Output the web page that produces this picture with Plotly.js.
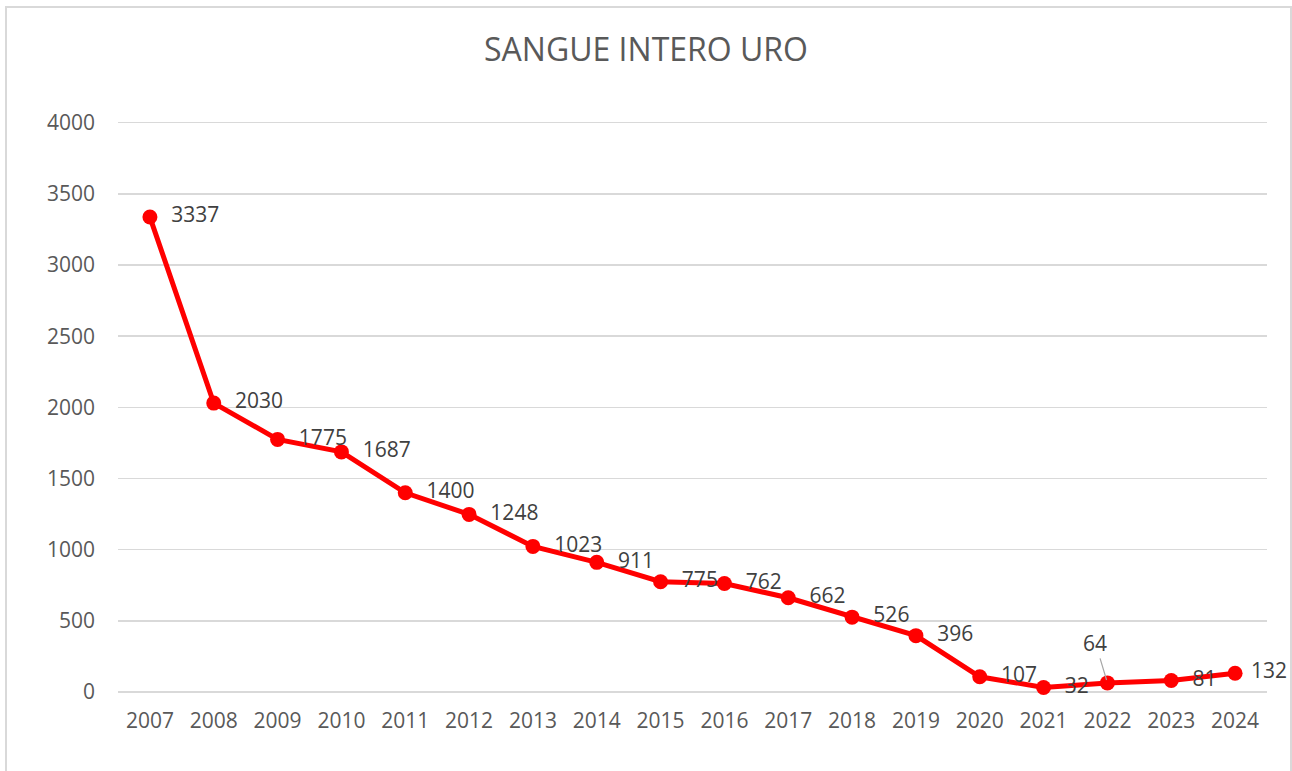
<!DOCTYPE html>
<html>
<head>
<meta charset="utf-8">
<script src="https://cdn.plot.ly/plotly-3.0.1.min.js"></script>
<style>
  body { margin: 0; background: #fff; }
  #chart { width: 1292px; height: 771px; }
  #frame {
    position: absolute; left: 5px; top: 6px; width: 1283px; height: 780px;
    border: 2px solid #d9d9d9; border-bottom: none; pointer-events: none;
  }
</style>
</head>
<body>
<div id="chart"></div>
<div id="frame"></div>
<script>
// anni e unità di sangue intero
var years = ['2007','2008','2009','2010','2011','2012','2013','2014','2015',
             '2016','2017','2018','2019','2020','2021','2022','2023','2024'];
var units = [3337, 2030, 1775, 1687, 1400, 1248, 1023, 911, 775,
             762, 662, 526, 396, 107, 32, 64, 81, 132];
var yTicks = [0, 500, 1000, 1500, 2000, 2500, 3000, 3500, 4000];
var calloutYear = '2022';

var labelFont = {family: 'Open Sans, sans-serif', size: 21, color: '#404040'};
var tickFont = {family: 'Open Sans, sans-serif', size: 21, color: '#595959'};

// l'ultima etichetta sta più vicina al punto, come nell'originale
var texts = units.map(function(v, i) {
  if (years[i] === calloutYear) return '';
  return (i === units.length - 1 ? ' ' : '  ') + v;
});

var data = [{
  x: years,
  y: units,
  mode: 'lines+markers+text',
  type: 'scatter',
  line: {color: '#ff0000', width: 5},
  marker: {color: '#ff0000', size: 15},
  text: texts,
  textposition: 'middle right',
  textfont: labelFont,
  cliponaxis: false,
  hoverinfo: 'x+y'
}];

var ci = years.indexOf(calloutYear);
var layout = {
  width: 1292,
  height: 771,
  margin: {l: 118, r: 25, t: 121, b: 79},
  paper_bgcolor: '#ffffff',
  plot_bgcolor: '#ffffff',
  showlegend: false,
  title: {
    text: 'SANGUE INTERO URO',
    font: {family: 'Open Sans, sans-serif', size: 32, color: '#595959'},
    x: 0.5, xanchor: 'center',
    y: 0.935, yanchor: 'middle'
  },
  xaxis: {
    type: 'category',
    categoryarray: years,
    range: [-0.5, years.length - 0.5],
    tickfont: tickFont,
    showgrid: false,
    zeroline: false,
    showline: false,
    ticks: '',
    ticklabelstandoff: 14
  },
  yaxis: {
    range: [0, 4012],
    tickvals: yTicks,
    tickfont: tickFont,
    showgrid: true,
    gridcolor: '#d9d9d9',
    gridwidth: 1.5,
    zeroline: true,
    zerolinecolor: '#d9d9d9',
    zerolinewidth: 1.5,
    showline: false,
    ticks: '',
    ticklabelstandoff: 22
  },
  annotations: [{
    x: ci,
    y: units[ci],
    xref: 'x', yref: 'y',
    text: String(units[ci]),
    font: labelFont,
    showarrow: true,
    arrowhead: 0,
    arrowwidth: 1.2,
    arrowcolor: '#a6a6a6',
    ax: -12,
    ay: -40,
    standoff: 3
  }]
};

Plotly.newPlot('chart', data, layout, {displayModeBar: false, staticPlot: true});
</script>
</body>
</html>
